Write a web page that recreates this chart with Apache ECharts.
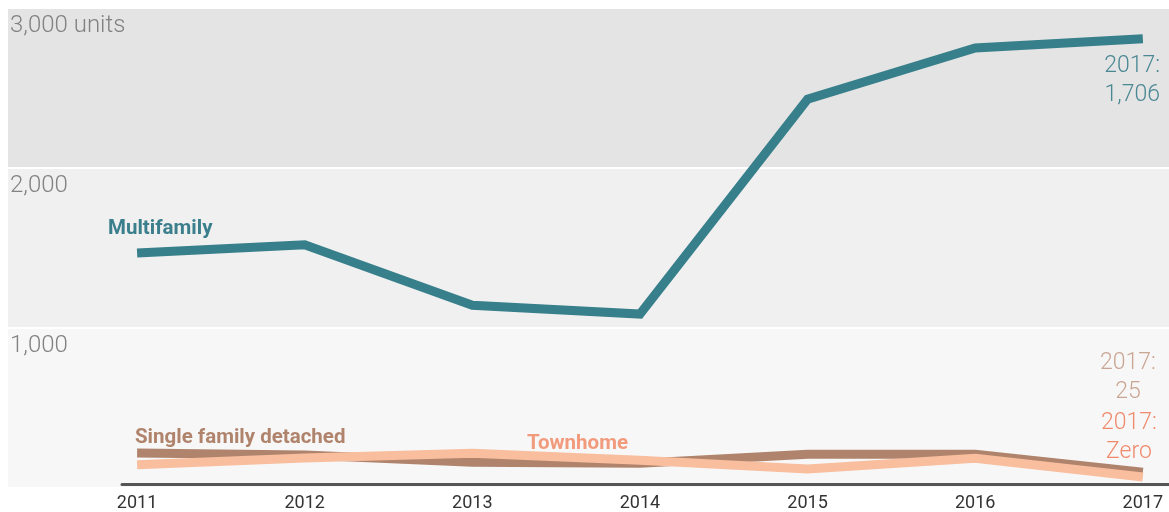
<!DOCTYPE html>
<html>
<head>
<meta charset="utf-8">
<script src="https://cdn.jsdelivr.net/npm/echarts@6/dist/echarts.min.js"></script>
<style>
  html, body { margin: 0; padding: 0; background: #ffffff; }
  #chart { width: 1169px; height: 512px; }
</style>
</head>
<body>
<div id="chart"></div>
<script>
const years = [2011, 2012, 2013, 2014, 2015, 2016, 2017];
const multifamily = [1456, 1508, 1127, 1071, 2425, 2748, 2806];
const singleFamilyDetached = [196, 182, 137, 131, 187, 187, 75];
const townhome = [122, 164, 194, 150, 94, 162, 44];
const yTicks = [0, 1000, 2000, 3000];
const yTickLabels = ['', '1,000', '2,000', '3,000 units'];

const FONT = 'Roboto';

const pairs = arr => years.map((y, i) => [y, arr[i]]);

const chart = echarts.init(document.getElementById('chart'), null, { renderer: 'canvas' });

function txt(x, y, text, opts) {
  return {
    type: 'text', x: x, y: y, z: 100,
    style: Object.assign({
      text: text,
      fontFamily: FONT,
      fontSize: 20.5,
      fontWeight: 'bold',
      fill: '#000',
      align: 'left',
      verticalAlign: 'middle'
    }, opts)
  };
}

const option = {
  animation: false,
  backgroundColor: '#ffffff',
  grid: [
    { left: 8, right: 0, top: 8, bottom: 24 },
    { left: 122, right: 0, top: 8, bottom: 24 }
  ],
  xAxis: [
    { gridIndex: 0, type: 'value', min: 0, max: 1, show: false },
    {
      gridIndex: 1, type: 'value', min: 2010.91, max: 2017.156,
      axisLine: { show: true, lineStyle: { color: '#555555', width: 3 } },
      axisTick: { show: false },
      splitLine: { show: false },
      axisLabel: {
        customValues: years,
        formatter: v => String(v),
        color: '#333333',
        fontFamily: FONT,
        fontSize: 18,
        margin: 10
      }
    }
  ],
  yAxis: [
    {
      gridIndex: 0, type: 'value', min: 0, max: 3000, interval: 1000,
      axisLine: { show: false },
      axisTick: { show: false },
      splitLine: { show: true, lineStyle: { color: '#ffffff', width: 2 } },
      splitArea: { show: true, areaStyle: { color: ['#f7f7f7', '#f0f0f0', '#e4e4e4'] } },
      axisLabel: {
        inside: true,
        margin: 2,
        verticalAlign: 'top',
        padding: [6, 0, 0, 0],
        color: '#828282',
        fontFamily: FONT,
        fontWeight: 300,
        fontSize: 24,
        formatter: v => yTickLabels[yTicks.indexOf(v)] || ''
      }
    },
    {
      gridIndex: 1, type: 'value', min: 0, max: 3000, interval: 1000,
      show: false, splitLine: { show: false }
    }
  ],
  series: [
    { type: 'line', xAxisIndex: 0, yAxisIndex: 0, data: [], silent: true },
    {
      name: 'Multifamily', type: 'line', xAxisIndex: 1, yAxisIndex: 1,
      data: pairs(multifamily), symbol: 'none',
      lineStyle: { color: '#377f8b', width: 9, cap: 'butt', join: 'miter' }
    },
    {
      name: 'Single family detached', type: 'line', xAxisIndex: 1, yAxisIndex: 1,
      data: pairs(singleFamilyDetached), symbol: 'none',
      lineStyle: { color: '#b0846c', width: 9, cap: 'butt', join: 'miter' }
    },
    {
      name: 'Townhome', type: 'line', xAxisIndex: 1, yAxisIndex: 1,
      data: pairs(townhome), symbol: 'none',
      lineStyle: { color: '#f8be9e', width: 9, cap: 'butt', join: 'miter' }
    }
  ],
  graphic: {
    elements: [
      txt(108, 229, 'Multifamily', { fill: '#3a7f8b' }),
      txt(135, 438, 'Single family detached', { fill: '#b0846c' }),
      txt(527, 444, 'Townhome', { fill: '#f29a7c' }),
      txt(1160, 52, '2017:\n1,706', { fill: '#4a8893', fontWeight: 300, fontSize: 23, lineHeight: 29, align: 'right', verticalAlign: 'top' }),
      txt(1128, 349, '2017:\n25', { fill: '#caa593', fontWeight: 300, fontSize: 23, lineHeight: 29, align: 'center', verticalAlign: 'top' }),
      txt(1129, 409, '2017:\nZero', { fill: '#f08a6c', fontWeight: 300, fontSize: 23, lineHeight: 29, align: 'center', verticalAlign: 'top' })
    ]
  }
};
chart.setOption(option);
</script>
</body>
</html>
